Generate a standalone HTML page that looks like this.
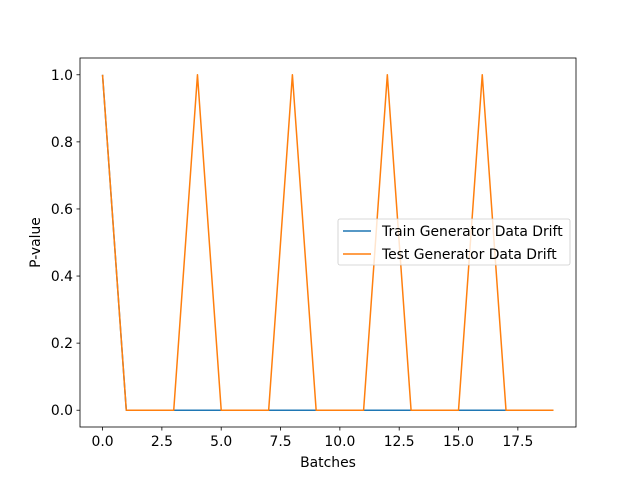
<!DOCTYPE html>
<html><head><meta charset="utf-8"><style>body{margin:0;background:#fff}svg{display:block;font-family:"DejaVu Sans","Liberation Sans",sans-serif}</style></head>
<body>
<svg id="chart" width="640" height="480"></svg>
<script>
const batches=[0,1,2,3,4,5,6,7,8,9,10,11,12,13,14,15,16,17,18,19];
const trainValues=[1,0,0,0,0,0,0,0,0,0,0,0,0,0,0,0,0,0,0,0];
const testValues=[1,0,0,0,1,0,0,0,1,0,0,0,1,0,0,0,1,0,0,0];
const xTicks=[0,2.5,5,7.5,10,12.5,15,17.5];
const xTickLabels=["0.0","2.5","5.0","7.5","10.0","12.5","15.0","17.5"];
const yTicks=[0,0.2,0.4,0.6,0.8,1.0];
const yTickLabels=["0.0","0.2","0.4","0.6","0.8","1.0"];
const L=80,R=576,T=58,B=427;
const x0=-0.95,x1=19.95,y0=-0.05,y1=1.05;
const X=v=>L+(v-x0)/(x1-x0)*(R-L);
const Y=v=>B-(v-y0)/(y1-y0)*(B-T);
const svg=document.getElementById('chart');
const NS='http://www.w3.org/2000/svg';
const FS=13.9;
function mk(tag,attrs,parent){const e=document.createElementNS(NS,tag);for(const k in attrs)e.setAttribute(k,attrs[k]);(parent||svg).appendChild(e);return e;}
xTicks.forEach((t,i)=>{
  const l=mk('line',{x1:X(t),x2:X(t),y1:B,y2:B+3.5,stroke:'#000','stroke-width':0.8});
  
  
  const tx=mk('text',{x:X(t),y:B+19,'font-size':FS,'text-anchor':'middle'});tx.textContent=xTickLabels[i];
  
  
});
yTicks.forEach((t,i)=>{
  const l=mk('line',{x1:L-3.5,x2:L,y1:Y(t),y2:Y(t),stroke:'#000','stroke-width':0.8});
  
  
  const tx=mk('text',{x:L-7,y:Y(t)+5,'font-size':FS,'text-anchor':'end'});tx.textContent=yTickLabels[i];
  
  
});
function series(vals,color,name){
  const p=mk('polyline',{points:batches.map((b,i)=>X(b)+','+Y(vals[i])).join(' '),fill:'none',stroke:color,'stroke-width':1.5,'stroke-linejoin':'round'});
  
  
}
series(trainValues,'#1f77b4','train-drift-line');
series(testValues,'#ff7f0e','test-drift-line');
const frame=mk('rect',{x:L,y:T,width:R-L,height:B-T,fill:'none',stroke:'#000','stroke-width':0.8});


const xt=mk('text',{x:(L+R)/2,y:467,'font-size':FS,'text-anchor':'middle'});xt.textContent='Batches';


const yt=mk('text',{x:0,y:0,'font-size':FS,'text-anchor':'middle',transform:`translate(40,${(T+B)/2}) rotate(-90)`});yt.textContent='P-value';


const lg=mk('g',{});


mk('rect',{x:338,y:219,width:232,height:46,rx:2,fill:'#fff','fill-opacity':0.8,stroke:'#ccc','stroke-width':0.8},lg);
[['Train Generator Data Drift','#1f77b4',231],['Test Generator Data Drift','#ff7f0e',254]].forEach(([t,c,y])=>{
  mk('line',{x1:343,x2:371,y1:y,y2:y,stroke:c,'stroke-width':1.5},lg);
  const e=mk('text',{x:382,y:y+5,'font-size':FS},lg);e.textContent=t;
  
  
});
</script>
</body></html>
